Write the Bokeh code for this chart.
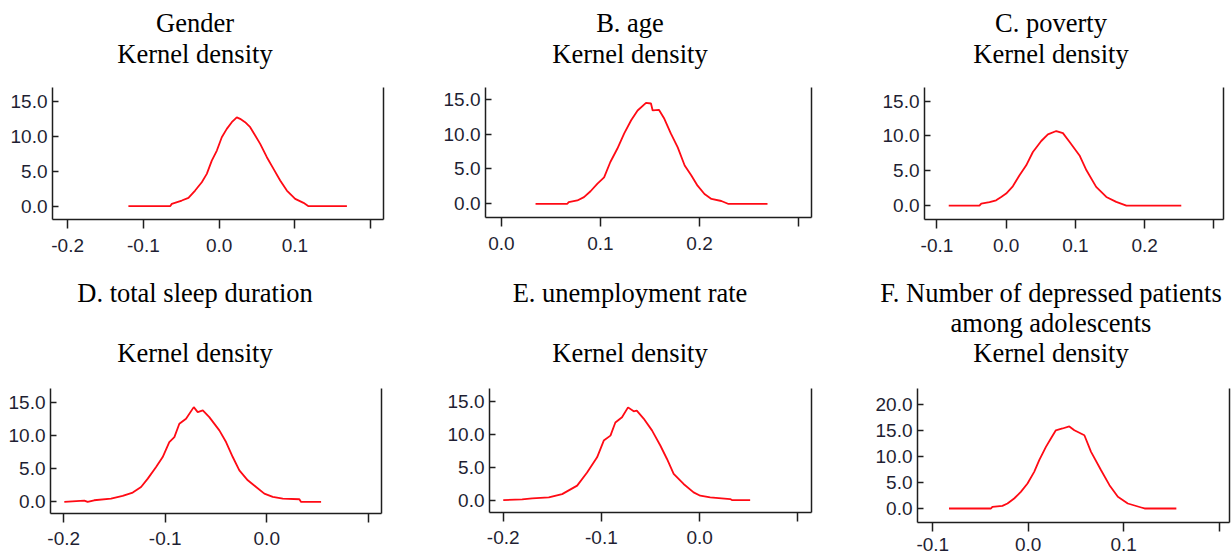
from bokeh.plotting import figure
from bokeh.layouts import row, column
from bokeh.models import LinearAxis, FixedTicker, NumeralTickFormatter, Range1d, Div
from bokeh.embed import file_html
from bokeh.resources import INLINE

# ---------------- data ----------------
gender_x = [-0.1198, -0.0647, -0.0625, -0.0493, -0.0405, -0.0317, -0.0229, -0.0163, -0.0097,
            -0.0030, 0.0035, 0.0101, 0.0167, 0.0233, 0.0277, 0.0343, 0.0410, 0.0476, 0.0542,
            0.0630, 0.0718, 0.0806, 0.0894, 0.1004, 0.1114, 0.1180, 0.1687]
gender_y = [0.0, 0.0, 0.33, 0.81, 1.19, 2.24, 3.43, 4.62, 6.52,
            7.95, 9.86, 11.05, 12.0, 12.7, 12.48, 12.0, 11.29, 10.1, 8.91,
            7.0, 5.34, 3.67, 2.24, 1.05, 0.48, 0.0, 0.0]

age_x = [0.0345, 0.0666, 0.068, 0.0767, 0.0834, 0.090, 0.097, 0.1037, 0.110, 0.117, 0.124, 0.131,
         0.1375, 0.146, 0.151, 0.1527, 0.159, 0.1645, 0.171, 0.178, 0.185, 0.1916, 0.198, 0.205,
         0.212, 0.222, 0.2287, 0.2686]
age_y = [0.0, 0.0, 0.24, 0.48, 0.96, 1.8, 2.9, 3.8, 6.0, 7.9, 10.1, 12.0,
         13.4, 14.5, 14.4, 13.4, 13.5, 12.2, 10.1, 8.1, 5.5, 4.1, 2.6, 1.4,
         0.7, 0.4, 0.0, 0.0]

poverty_x = [-0.083, -0.0386, -0.036, -0.024, -0.0145, -0.0072, 0.000, 0.0096, 0.0193, 0.029,
             0.0386, 0.0507, 0.0603, 0.0724, 0.082, 0.0917, 0.106, 0.116, 0.130, 0.1447, 0.159,
             0.1737, 0.253]
poverty_y = [0.0, 0.0, 0.29, 0.48, 0.76, 1.24, 1.72, 2.77, 4.35, 5.78,
             7.69, 9.27, 10.22, 10.7, 10.4, 9.13, 7.2, 5.06, 2.68, 1.24, 0.53,
             0.0, 0.0]

sleep_x = [-0.1994, -0.1797, -0.1764, -0.1700, -0.1534, -0.1419, -0.1320, -0.1238, -0.1172,
           -0.1090, -0.1025, -0.0960, -0.0910, -0.0861, -0.0795, -0.0719, -0.0680, -0.0630,
           -0.0566, -0.0467, -0.0401, -0.0335, -0.0270, -0.0187, -0.0105, -0.0024, 0.0059,
           0.0158, 0.0321, 0.0338, 0.0535]
sleep_y = [0.0, 0.2, 0.0, 0.25, 0.5, 0.9, 1.4, 2.25, 3.5,
           5.25, 6.75, 9.0, 9.75, 11.75, 12.5, 14.25, 13.5, 13.75,
           12.75, 10.75, 9.0, 6.75, 4.75, 3.25, 2.25, 1.25, 0.75,
           0.5, 0.4, 0.0, 0.0]

unemp_x = [-0.200, -0.1807, -0.1705, -0.1536, -0.140, -0.1247, -0.1146, -0.1044, -0.0976, -0.0908,
           -0.0858, -0.079, -0.0729, -0.0671, -0.064, -0.057, -0.0485, -0.040, -0.0332, -0.0264,
           -0.0163, -0.0061, 0.0007, 0.0108, 0.0312, 0.0329, 0.0515]
unemp_y = [0.0, 0.1, 0.25, 0.4, 0.9, 2.2, 4.2, 6.5, 9.05, 9.8,
           11.8, 12.6, 14.1, 13.5, 13.6, 12.4, 10.6, 8.3, 6.25, 4.0,
           2.45, 1.17, 0.66, 0.4, 0.15, 0.0, 0.0]

dep_x = [-0.083, -0.039, -0.0375, -0.027, -0.0217, -0.0147, -0.0077, -0.0007, 0.0063, 0.0116,
         0.0186, 0.0238, 0.029, 0.036, 0.0431, 0.0484, 0.0589, 0.0659, 0.0764, 0.0852, 0.094,
         0.1044, 0.1185, 0.122, 0.1553]
dep_y = [0.0, 0.0, 0.32, 0.5, 0.96, 1.92, 3.2, 4.8, 7.05, 9.3,
         11.86, 13.46, 15.06, 15.4, 15.8, 15.06, 14.1, 10.9, 7.37, 4.49, 2.24,
         0.96, 0.19, 0.0, 0.0]

gender_xticks = [-0.2, -0.1, 0.0, 0.1, 0.2]
gender_xlabels = ["-0.2", "-0.1", "0.0", "0.1", ""]
age_xticks = [0.0, 0.1, 0.2, 0.3]
age_xlabels = ["0.0", "0.1", "0.2", ""]
poverty_xticks = [-0.1, 0.0, 0.1, 0.2, 0.3]
poverty_xlabels = ["-0.1", "0.0", "0.1", "0.2", ""]
sleep_xticks = [-0.2, -0.1, 0.0, 0.1]
sleep_xlabels = ["-0.2", "-0.1", "0.0", ""]
unemp_xticks = [-0.2, -0.1, 0.0, 0.1]
unemp_xlabels = ["-0.2", "-0.1", "0.0", ""]
dep_xticks = [-0.1, 0.0, 0.1, 0.2]
dep_xlabels = ["-0.1", "0.0", "0.1", ""]

yticks_15 = [0, 5, 10, 15]
yticks_20 = [0, 5, 10, 15, 20]

titles = [
    ["Gender", "Kernel density"],
    ["B. age", "Kernel density"],
    ["C. poverty", "Kernel density"],
    ["D. total sleep duration", "", "Kernel density"],
    ["E. unemployment rate", "", "Kernel density"],
    ["F. Number of depressed patients", "among adolescents", "Kernel density"],
]

# ---------------- styling ----------------
AXIS_COLOR = "#1e1e1e"
LABEL_COLOR = "#1f1f33"
TICK_FONT = "Liberation Sans"
TITLE_FONT = "Liberation Serif"
LINE_COLOR = "#ff0a14"


def make_title(lines, width, height, cx, pad_top, line_h):
    html_lines = "<br>".join(l if l else "&nbsp;" for l in lines)
    html = (
        f'<div style="position:relative;width:{width}px;height:{height}px;margin:0;padding:0;">'
        f'<div style="position:absolute;left:{cx}px;top:{pad_top}px;transform:translateX(-50%);'
        f'white-space:nowrap;text-align:center;font-family:\'{TITLE_FONT}\';font-size:26.5px;'
        f'line-height:{line_h}px;color:#000000;">{html_lines}</div></div>'
    )
    return Div(text=html, width=width, height=height, margin=(0, 0, 0, 0))


def make_panel(xs, ys, xr, yr, xticks, xlabels, yticks,
               width, height, bl, br, bt, bb, x_tick_out, x_standoff):
    p = figure(width=width, height=height, x_range=Range1d(*xr), y_range=Range1d(*yr),
               output_backend="svg", toolbar_location=None, tools="",
               min_border_left=bl, min_border_right=br, min_border_top=bt, min_border_bottom=bb,
               margin=(0, 0, 0, 0))
    p.outline_line_color = None
    p.grid.visible = False
    p.background_fill_color = "white"
    p.border_fill_color = "white"

    xa = p.xaxis[0]
    xa.ticker = FixedTicker(ticks=xticks)
    xa.formatter = NumeralTickFormatter(format="0.0")
    xa.major_label_overrides = {t: l for t, l in zip(xticks, xlabels)}
    xa.major_tick_out = x_tick_out
    xa.major_tick_in = 0
    xa.minor_tick_out = 0
    xa.minor_tick_in = 0
    xa.major_label_standoff = x_standoff
    xa.axis_line_color = AXIS_COLOR
    xa.axis_line_width = 1.5
    xa.major_tick_line_color = AXIS_COLOR
    xa.major_tick_line_width = 1.5
    xa.major_label_text_font = TICK_FONT
    xa.major_label_text_font_size = "19px"
    xa.major_label_text_color = LABEL_COLOR

    ya = p.yaxis[0]
    ya.ticker = FixedTicker(ticks=yticks)
    ya.formatter = NumeralTickFormatter(format="0.0")
    ya.major_tick_out = 0
    ya.major_tick_in = 6
    ya.minor_tick_out = 0
    ya.minor_tick_in = 0
    ya.major_label_standoff = 5
    ya.axis_line_color = AXIS_COLOR
    ya.axis_line_width = 1.5
    ya.major_tick_line_color = AXIS_COLOR
    ya.major_tick_line_width = 1.5
    ya.major_label_text_font = TICK_FONT
    ya.major_label_text_font_size = "19px"
    ya.major_label_text_color = LABEL_COLOR

    ra = LinearAxis(ticker=FixedTicker(ticks=[]), major_tick_out=0, major_tick_in=0,
                    minor_tick_out=0, minor_tick_in=0, major_label_standoff=0,
                    major_label_text_font_size="0px", axis_line_color=AXIS_COLOR,
                    axis_line_width=1.5)
    p.add_layout(ra, "right")

    p.line(xs, ys, line_color=LINE_COLOR, line_width=1.8)
    return p


# column widths: 430, 438, 363 ; row 1: title 80 + plot 182 ; row 2: title 118 + plot 179
t1 = make_title(titles[0], 430, 80, 195, 8, 31)
t2 = make_title(titles[1], 438, 80, 200, 8, 31)
t3 = make_title(titles[2], 363, 80, 183, 8, 31)
t4 = make_title(titles[3], 430, 118, 195, 16, 30)
t5 = make_title(titles[4], 438, 118, 200, 16, 30)
t6 = make_title(titles[5], 363, 118, 183, 16, 30)

p1 = make_panel(gender_x, gender_y, (-0.22, 0.217), (-1.9, 16.96), gender_xticks, gender_xlabels,
                yticks_15, 430, 182, 52, 47, 7, 43, 9, 10)
p2 = make_panel(age_x, age_y, (-0.016, 0.313), (-1.97, 16.7), age_xticks, age_xlabels,
                yticks_15, 438, 182, 55, 57, 7, 45, 9, 10)
p3 = make_panel(poverty_x, poverty_y, (-0.118, 0.314), (-2.0, 16.95), poverty_xticks, poverty_xlabels,
                yticks_15, 363, 182, 56, 8, 7, 43, 9, 10)
p4 = make_panel(sleep_x, sleep_y, (-0.213, 0.113), (-1.74, 17.05), sleep_xticks, sleep_xlabels,
                yticks_15, 430, 179, 50, 49, 8, 46, 9, 9)
p5 = make_panel(unemp_x, unemp_y, (-0.214, 0.114), (-1.89, 16.97), unemp_xticks, unemp_xlabels,
                yticks_15, 438, 179, 59, 57, 8, 47, 9, 9)
p6 = make_panel(dep_x, dep_y, (-0.116, 0.211), (-2.7, 23.1), dep_xticks, dep_xlabels,
                yticks_20, 363, 179, 49, 2, 8, 37, 9, 6)

layout = column(
    row(column(t1, p1, spacing=0), column(t2, p2, spacing=0), column(t3, p3, spacing=0), spacing=0),
    row(column(t4, p4, spacing=0), column(t5, p5, spacing=0), column(t6, p6, spacing=0), spacing=0),
    spacing=0,
)

open("out.html", "w").write(file_html(layout, INLINE))
